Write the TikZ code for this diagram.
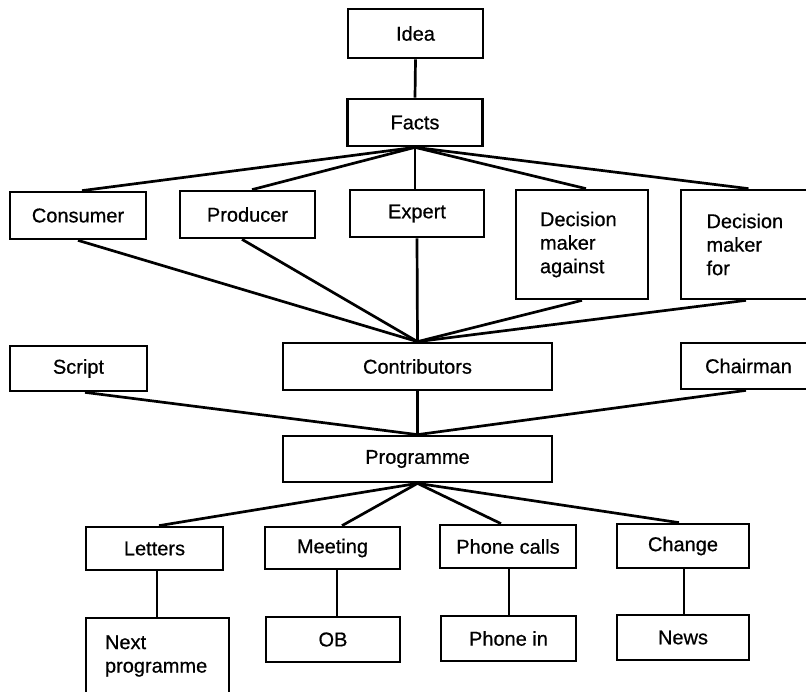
\documentclass[tikz,border=0pt]{standalone}
\usepackage{fontspec}
\setmainfont{Liberation Sans}
\newfontface\labelface[FakeBold=0.6]{Liberation Sans}
\begin{document}
\begin{tikzpicture}[x=1pt,y=-1pt,
  box/.style={draw, line width=2.7pt, inner sep=0pt, font=\labelface\fontsize{20}{23.5}\selectfont},
  wide/.style={minimum width=269pt},
  narrow/.style={minimum width=135pt},
  multi/.style={align=left},
  link/.style={line width=2.7pt}]
\useasboundingbox (0,0) rectangle (806,692);
\fill[white] (0,0) rectangle (806,692);

% top chain
\node[box, narrow, minimum height=49pt] (idea)  at (415.5,33.5) {Idea};
\node[box, narrow, minimum height=47pt] (facts) at (415,122.5) {Facts};

% sources of facts
\node[box, minimum width=136pt, minimum height=47pt] (consumer) at (78,215.5) {Consumer};
\node[box, narrow, minimum height=47pt] (producer) at (247.5,214.5) {Producer};
\node[box, minimum width=134pt, minimum height=47pt] (expert) at (417,213.5) {Expert};
\node[box, multi, text width=84pt, minimum width=132pt, minimum height=109pt] (against) at (582,244.5) {Decision\\maker\\against};
\node[box, multi, text width=84pt, narrow, minimum height=109pt] (for) at (748.5,244.5) {Decision\\maker\\for};

% middle row
\node[box, minimum width=137pt, minimum height=45pt] (script) at (78.5,368.5) {Script};
\node[box, wide, minimum height=47pt] (contrib) at (417.5,366.5) {Contributors};
\node[box, narrow, minimum height=46pt] (chairman) at (748.5,366) {Chairman};

\node[box, wide, minimum height=46pt] (prog) at (417.5,459) {Programme};

% responses
\node[box, minimum width=137pt, minimum height=43pt] (letters) at (154.5,548.5) {Letters};
\node[box, narrow, minimum height=42pt] (meeting) at (332.5,548) {Meeting};
\node[box, minimum width=136pt, minimum height=43pt] (calls) at (508,546.5) {Phone calls};
\node[box, minimum width=132pt, minimum height=44pt] (change) at (683,546) {Change};

% outcomes
\node[box, multi, text width=105pt, minimum width=143pt, minimum height=76pt] (next) at (157.5,656) {Next\\programme};
\node[box, minimum width=134pt, minimum height=45pt] (ob) at (333,639.5) {OB};
\node[box, narrow, minimum height=45pt] (phonein) at (508.5,638.5) {Phone in};
\node[box, minimum width=132pt, minimum height=45pt] (news) at (683,637.5) {News};

% connectors
\draw[link] (idea.south) -- (facts.north);
\draw[link] (facts.south) -- ([xshift=4pt]consumer.north);
\draw[link] (facts.south) -- ([xshift=4.5pt]producer.north);
\draw[link] (facts.south) -- (facts.south |- expert.north);
\draw[link] (facts.south) -- ([xshift=4pt]against.north);
\draw[link] (facts.south) -- (for.north);

\draw[link] (consumer.south) -- (contrib.north);
\draw[link] ([xshift=-5.5pt]producer.south) -- (contrib.north);
\draw[link] (expert.south) -- (contrib.north);
\draw[link] (against.south) -- (contrib.north);
\draw[link] ([xshift=-2.5pt]for.south) -- (contrib.north);

\draw[link] ([xshift=6.5pt]script.south) -- (prog.north);
\draw[link] (contrib.south) -- (prog.north);
\draw[link] ([xshift=-2.5pt]chairman.south) -- (prog.north);

\draw[link] (prog.south) -- ([xshift=4.5pt]letters.north);
\draw[link] (prog.south) -- ([xshift=9.5pt]meeting.north);
\draw[link] (prog.south) -- ([xshift=-7pt]calls.north);
\draw[link] (prog.south) -- ([xshift=-4pt]change.north);

\draw[link] ([xshift=2.5pt]letters.south) -- ([xshift=2.5pt]letters.south |- next.north);
\draw[link] ([xshift=4.5pt]meeting.south) -- ([xshift=4.5pt]meeting.south |- ob.north);
\draw[link] ([xshift=1pt]calls.south) -- ([xshift=1pt]calls.south |- phonein.north);
\draw[link] ([xshift=1pt]change.south) -- ([xshift=1pt]change.south |- news.north);
\end{tikzpicture}
\end{document}
